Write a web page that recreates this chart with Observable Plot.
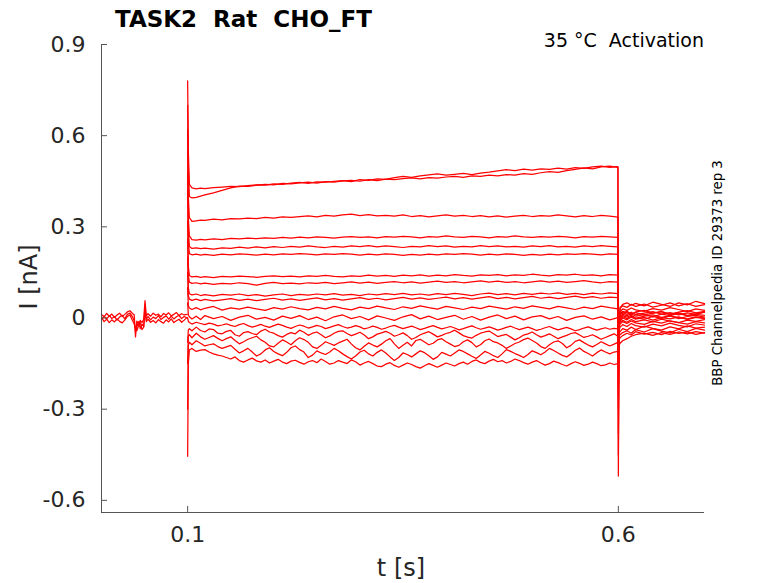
<!DOCTYPE html>
<html><head><meta charset="utf-8">
<script src="https://cdn.jsdelivr.net/npm/d3@7"></script>
<script src="https://cdn.jsdelivr.net/npm/@observablehq/plot@0.6"></script>
<style>body{margin:0;background:#fff;}</style>
</head><body><div id="chart"></div>
<script>
// ---- axis definitions ----
const xDomain = [0, 0.7];
const yDomain = [-0.64, 0.9];
const xTicks = [0.1, 0.6];
const xTickLabels = ["0.1", "0.6"];
const yTicks = [-0.6, -0.3, 0, 0.3, 0.6, 0.9];
const yTickLabels = ["-0.6", "-0.3", "0", "0.3", "0.6", "0.9"];

// ---- holding period (before step) ----
const tBase = [0, 0.003, 0.006, 0.009, 0.012, 0.015, 0.018, 0.021, 0.024, 0.027,
  0.03, 0.033, 0.036, 0.038, 0.0395, 0.041, 0.043, 0.045, 0.047, 0.049,
  0.0505, 0.052, 0.054, 0.057, 0.06, 0.063, 0.066, 0.069, 0.072, 0.075,
  0.078, 0.081, 0.084, 0.087, 0.09, 0.093, 0.096, 0.0995];
const base1 = [0.012, 0.004, 0.015, 0.006, 0.013, 0.002, 0.01, 0.016, 0.005, 0.012,
  0.02, 0.024, 0.015, 0.01, -0.062, -0.01, -0.02, -0.008, -0.015, -0.004,
  0.057, 0.008, 0.014, 0.006, 0.016, 0.009, 0.013, 0.004, 0.015, 0.01,
  0.017, 0.007, 0.012, 0.018, 0.008, 0.014, 0.01, 0.012];
const base2 = [-0.006, 0.006, -0.004, 0.008, -0.002, 0.005, -0.007, 0.003, 0.009, -0.003,
  0.012, 0.016, 0.004, -0.01, -0.045, -0.03, -0.012, -0.035, -0.02, -0.028,
  0.04, -0.004, 0.005, -0.006, 0.003, -0.002, 0.008, -0.005, 0.002, 0.007,
  -0.004, 0.006, -0.003, 0.004, 0.009, -0.002, 0.005, 0.0];
const base3 = [0.002, -0.012, -0.004, -0.015, -0.006, -0.013, -0.003, -0.011, -0.016, -0.007,
  0.005, 0.01, -0.008, -0.02, -0.035, -0.042, -0.025, -0.015, -0.038, -0.03,
  0.025, -0.012, -0.004, -0.014, -0.008, -0.016, -0.005, -0.012, -0.017, -0.006,
  -0.013, -0.003, -0.015, -0.009, -0.004, -0.014, -0.007, 0.002];

// ---- step period, coarse sampling ----
const tStep = [0.1, 0.1008, 0.102, 0.105, 0.11, 0.115, 0.12, 0.13, 0.14, 0.15,
  0.16, 0.17, 0.18, 0.19, 0.2, 0.21, 0.22, 0.23, 0.24, 0.25,
  0.26, 0.27, 0.28, 0.29, 0.3, 0.31, 0.32, 0.33, 0.34, 0.35,
  0.36, 0.37, 0.38, 0.39, 0.4, 0.41, 0.42, 0.43, 0.44, 0.45,
  0.46, 0.47, 0.48, 0.49, 0.5, 0.51, 0.52, 0.53, 0.54, 0.55,
  0.56, 0.57, 0.58, 0.59, 0.5995];
// ---- step period, fine sampling (noisier sweeps) ----
const tStepFine = [0.1, 0.1008, 0.102, 0.105,
  0.11, 0.115, 0.12, 0.125, 0.13, 0.135,
  0.14, 0.145, 0.15, 0.155, 0.16, 0.165, 0.17, 0.175, 0.18, 0.185,
  0.19, 0.195, 0.2, 0.205, 0.21, 0.215, 0.22, 0.225, 0.23, 0.235,
  0.24, 0.245, 0.25, 0.255, 0.26, 0.265, 0.27, 0.275, 0.28, 0.285,
  0.29, 0.295, 0.3, 0.305, 0.31, 0.315, 0.32, 0.325, 0.33, 0.335,
  0.34, 0.345, 0.35, 0.355, 0.36, 0.365, 0.37, 0.375, 0.38, 0.385,
  0.39, 0.395, 0.4, 0.405, 0.41, 0.415, 0.42, 0.425, 0.43, 0.435,
  0.44, 0.445, 0.45, 0.455, 0.46, 0.465, 0.47, 0.475, 0.48, 0.485,
  0.49, 0.495, 0.5, 0.505, 0.51, 0.515, 0.52, 0.525, 0.53, 0.535,
  0.54, 0.545, 0.55, 0.555, 0.56, 0.565, 0.57, 0.575, 0.58, 0.585,
  0.59, 0.595, 0.5995];

const stepA = [0.78, 0.55, 0.44, 0.428, 0.425, 0.427, 0.426, 0.429, 0.431, 0.433,
  0.432, 0.436, 0.438, 0.437, 0.441, 0.44, 0.444, 0.446, 0.443, 0.448,
  0.447, 0.45, 0.452, 0.449, 0.455, 0.453, 0.458, 0.456, 0.462, 0.466,
  0.463, 0.468, 0.471, 0.474, 0.47, 0.473, 0.476, 0.472, 0.477, 0.48,
  0.484, 0.488, 0.485, 0.49, 0.487, 0.491, 0.489, 0.493, 0.49, 0.495,
  0.492, 0.497, 0.5, 0.496, 0.498];
const stepB = [0.7, 0.5, 0.4, 0.395, 0.397, 0.401, 0.405, 0.412, 0.42, 0.428,
  0.434, 0.433, 0.437, 0.44, 0.438, 0.443, 0.441, 0.445, 0.447, 0.444,
  0.449, 0.447, 0.451, 0.453, 0.45, 0.455, 0.452, 0.457, 0.455, 0.459,
  0.461, 0.458, 0.462, 0.46, 0.464, 0.466, 0.463, 0.468, 0.466, 0.47,
  0.468, 0.472, 0.47, 0.475, 0.473, 0.478, 0.482, 0.479, 0.485, 0.489,
  0.494, 0.491, 0.497, 0.5, 0.496];
const stepC = [0.62, 0.4, 0.33, 0.318, 0.32, 0.322, 0.321, 0.325, 0.323, 0.327,
  0.326, 0.329, 0.327, 0.331, 0.329, 0.333, 0.331, 0.334, 0.336, 0.333,
  0.338, 0.335, 0.339, 0.342, 0.337, 0.34, 0.336, 0.338, 0.335, 0.339,
  0.334, 0.337, 0.333, 0.336, 0.339, 0.335, 0.338, 0.334, 0.337, 0.333,
  0.336, 0.332, 0.335, 0.338, 0.334, 0.337, 0.335, 0.339, 0.336, 0.333,
  0.337, 0.334, 0.338, 0.335, 0.332];
const stepD = [0.55, 0.33, 0.27, 0.258, 0.256, 0.259, 0.257, 0.26, 0.258, 0.262,
  0.26, 0.263, 0.261, 0.264, 0.262, 0.265, 0.263, 0.266, 0.264, 0.267,
  0.265, 0.263, 0.266, 0.268, 0.265, 0.267, 0.264, 0.268, 0.266, 0.269,
  0.267, 0.264, 0.268, 0.266, 0.27, 0.267, 0.265, 0.269, 0.267, 0.264,
  0.268, 0.266, 0.27, 0.267, 0.265, 0.268, 0.266, 0.269, 0.267, 0.264,
  0.268, 0.266, 0.269, 0.267, 0.265];
const stepE = [0.48, 0.29, 0.235, 0.229, 0.231, 0.228, 0.23, 0.227, 0.231, 0.229,
  0.233, 0.23, 0.234, 0.231, 0.235, 0.232, 0.236, 0.233, 0.237, 0.234,
  0.232, 0.236, 0.233, 0.237, 0.235, 0.238, 0.234, 0.237, 0.235, 0.232,
  0.236, 0.234, 0.238, 0.235, 0.237, 0.233, 0.236, 0.234, 0.238, 0.235,
  0.237, 0.234, 0.236, 0.233, 0.237, 0.235, 0.238, 0.234, 0.236, 0.233,
  0.237, 0.235, 0.238, 0.236, 0.234];
const stepF = [0.42, 0.25, 0.212, 0.208, 0.21, 0.207, 0.209, 0.206, 0.21, 0.208,
  0.211, 0.209, 0.207, 0.21, 0.208, 0.211, 0.209, 0.212, 0.21, 0.208,
  0.211, 0.209, 0.212, 0.21, 0.207, 0.21, 0.208, 0.211, 0.209, 0.206,
  0.209, 0.207, 0.21, 0.208, 0.211, 0.209, 0.212, 0.21, 0.207, 0.21,
  0.208, 0.211, 0.209, 0.206, 0.209, 0.207, 0.21, 0.208, 0.211, 0.209,
  0.212, 0.21, 0.208, 0.211, 0.209];
const stepG = [0.32, 0.17, 0.14, 0.135, 0.137, 0.134, 0.136, 0.133, 0.137, 0.135,
  0.138, 0.136, 0.134, 0.137, 0.139, 0.136, 0.138, 0.135, 0.139, 0.137,
  0.14, 0.137, 0.135, 0.139, 0.137, 0.141, 0.138, 0.14, 0.137, 0.141,
  0.139, 0.142, 0.138, 0.141, 0.139, 0.143, 0.14, 0.138, 0.142, 0.14,
  0.143, 0.139, 0.142, 0.14, 0.144, 0.141, 0.139, 0.143, 0.141, 0.144,
  0.14, 0.142, 0.139, 0.143, 0.141];
const stepH = [0.26, 0.14, 0.118, 0.114, 0.116, 0.112, 0.115, 0.111, 0.114, 0.112,
  0.116, 0.113, 0.108, 0.114, 0.117, 0.113, 0.115, 0.112, 0.116, 0.114,
  0.117, 0.113, 0.116, 0.119, 0.115, 0.118, 0.114, 0.117, 0.12, 0.116,
  0.119, 0.115, 0.118, 0.121, 0.117, 0.12, 0.116, 0.119, 0.122, 0.118,
  0.121, 0.117, 0.12, 0.116, 0.119, 0.122, 0.118, 0.121, 0.117, 0.12,
  0.123, 0.119, 0.116, 0.12, 0.118];
const stepI = [0.2, 0.1, 0.08, 0.076, 0.079, 0.074, 0.077, 0.073, 0.078, 0.075,
  0.079, 0.074, 0.077, 0.072, 0.076, 0.079, 0.074, 0.078, 0.075, 0.079,
  0.076, 0.08, 0.075, 0.078, 0.074, 0.079, 0.076, 0.08, 0.077, 0.081,
  0.076, 0.079, 0.075, 0.08, 0.077, 0.081, 0.078, 0.074, 0.079, 0.082,
  0.077, 0.08, 0.076, 0.081, 0.078, 0.082, 0.079, 0.083, 0.078, 0.081,
  0.077, 0.082, 0.079, 0.083, 0.08];
const stepJ = [0.15, 0.075, 0.062, 0.058, 0.062, 0.057, 0.061, 0.056, 0.06, 0.064,
  0.058, 0.062, 0.057, 0.061, 0.065, 0.059, 0.063, 0.058, 0.062, 0.066,
  0.06, 0.064, 0.059, 0.063, 0.067, 0.061, 0.065, 0.06, 0.064, 0.068,
  0.062, 0.066, 0.061, 0.065, 0.069, 0.063, 0.067, 0.062, 0.066, 0.07,
  0.064, 0.068, 0.063, 0.067, 0.071, 0.065, 0.069, 0.064, 0.068, 0.072,
  0.066, 0.07, 0.065, 0.069, 0.067];
const stepK = [0.1, 0.04, 0.033, 0.028, 0.034, 0.027, 0.032, 0.038, 0.026, 0.033,
  0.029, 0.036, 0.03, 0.025, 0.034, 0.029, 0.037, 0.031, 0.027, 0.035,
  0.03, 0.038, 0.032, 0.027, 0.036, 0.031, 0.039, 0.033, 0.028, 0.037,
  0.032, 0.04, 0.034, 0.029, 0.038, 0.033, 0.028, 0.036, 0.031, 0.039,
  0.034, 0.029, 0.037, 0.032, 0.04, 0.035, 0.03, 0.038, 0.033, 0.028,
  0.036, 0.031, 0.039, 0.034, 0.03];
const stepL = [0.05, 0.01, 0.004, -0.003, 0.006, -0.005, 0.008, -0.002, 0.005, -0.008,
  0.003, 0.009, -0.004, 0.002, -0.007, 0.006, -0.001, 0.008, -0.005, 0.003,
  -0.009, 0.004, 0.01, -0.002, 0.005, -0.006, 0.007, 0.0, -0.008, 0.004,
  0.011, -0.003, 0.006, -0.005, 0.002, 0.009, -0.004, 0.005, -0.007, 0.003,
  0.01, -0.002, 0.006, -0.006, 0.004, 0.008, -0.003, 0.005, -0.008, 0.002,
  0.007, -0.004, 0.004, -0.006, 0.001];
const stepM = [0.0, -0.01, -0.015, -0.02,
  -0.014, -0.018, -0.022, -0.017, -0.02, -0.026,
  -0.023, -0.019, -0.024, -0.028, -0.022, -0.018, -0.025, -0.03, -0.026, -0.021,
  -0.027, -0.031, -0.025, -0.02, -0.024, -0.03, -0.034, -0.028, -0.023, -0.027,
  -0.033, -0.029, -0.024, -0.028, -0.035, -0.031, -0.026, -0.022, -0.028, -0.033,
  -0.03, -0.025, -0.029, -0.036, -0.032, -0.027, -0.031, -0.037, -0.033, -0.028,
  -0.024, -0.03, -0.035, -0.031, -0.027, -0.032, -0.038, -0.034, -0.029, -0.025,
  -0.031, -0.036, -0.032, -0.028, -0.033, -0.039, -0.035, -0.03, -0.026, -0.032,
  -0.037, -0.033, -0.029, -0.034, -0.04, -0.036, -0.031, -0.027, -0.033, -0.038,
  -0.034, -0.03, -0.035, -0.041, -0.037, -0.032, -0.028, -0.034, -0.039, -0.035,
  -0.031, -0.036, -0.042, -0.038, -0.033, -0.029, -0.035, -0.04, -0.036, -0.032,
  -0.037, -0.034, -0.036];
const stepN = [-0.08, -0.04, -0.035, -0.042,
  -0.03, -0.041, -0.046, -0.036, -0.038, -0.05,
  -0.052, -0.044, -0.041, -0.055, -0.06, -0.048, -0.045, -0.051, -0.055, -0.043,
  -0.037, -0.046, -0.05, -0.058, -0.063, -0.054, -0.048, -0.052, -0.04, -0.047,
  -0.057, -0.05, -0.046, -0.055, -0.065, -0.059, -0.05, -0.044, -0.042, -0.051,
  -0.058, -0.053, -0.047, -0.056, -0.068, -0.062, -0.053, -0.049, -0.044, -0.05,
  -0.06, -0.055, -0.049, -0.058, -0.07, -0.064, -0.055, -0.05, -0.045, -0.053,
  -0.062, -0.057, -0.051, -0.047, -0.04, -0.049, -0.058, -0.063, -0.066, -0.057,
  -0.05, -0.046, -0.043, -0.052, -0.061, -0.057, -0.054, -0.063, -0.072, -0.065,
  -0.056, -0.052, -0.046, -0.055, -0.063, -0.058, -0.052, -0.06, -0.068, -0.062,
  -0.057, -0.051, -0.048, -0.056, -0.064, -0.06, -0.055, -0.062, -0.07, -0.064,
  -0.058, -0.052, -0.06];
const stepO = [-0.15, -0.06, -0.055, -0.065,
  -0.05, -0.062, -0.07, -0.064, -0.058, -0.067,
  -0.075, -0.068, -0.062, -0.074, -0.085, -0.078, -0.07, -0.065, -0.06, -0.072,
  -0.08, -0.092, -0.095, -0.083, -0.072, -0.079, -0.088, -0.075, -0.065, -0.071,
  -0.08, -0.095, -0.1, -0.09, -0.078, -0.084, -0.09, -0.082, -0.076, -0.07,
  -0.085, -0.098, -0.105, -0.093, -0.082, -0.089, -0.095, -0.086, -0.075, -0.068,
  -0.085, -0.1, -0.09, -0.08, -0.092, -0.074, -0.07, -0.079, -0.088, -0.083,
  -0.072, -0.068, -0.078, -0.086, -0.094, -0.09, -0.078, -0.072, -0.081, -0.095,
  -0.088, -0.075, -0.069, -0.078, -0.082, -0.09, -0.1, -0.092, -0.084, -0.079,
  -0.071, -0.066, -0.074, -0.082, -0.094, -0.1, -0.088, -0.079, -0.075, -0.084,
  -0.098, -0.09, -0.077, -0.072, -0.081, -0.089, -0.095, -0.087, -0.078, -0.085,
  -0.092, -0.086, -0.08];
const stepP = [-0.3, -0.09, -0.08, -0.088,
  -0.075, -0.083, -0.092, -0.088, -0.085, -0.094,
  -0.1, -0.095, -0.09, -0.103, -0.115, -0.108, -0.1, -0.112, -0.125, -0.118,
  -0.105, -0.098, -0.11, -0.118, -0.124, -0.113, -0.098, -0.092, -0.104, -0.112,
  -0.13, -0.122, -0.108, -0.115, -0.12, -0.112, -0.1, -0.108, -0.118, -0.127,
  -0.135, -0.125, -0.112, -0.106, -0.118, -0.125, -0.113, -0.105, -0.115, -0.128,
  -0.14, -0.13, -0.115, -0.12, -0.128, -0.118, -0.108, -0.114, -0.124, -0.136,
  -0.128, -0.113, -0.119, -0.125, -0.115, -0.105, -0.11, -0.118, -0.126, -0.133,
  -0.122, -0.11, -0.116, -0.124, -0.13, -0.118, -0.104, -0.11, -0.117, -0.123,
  -0.13, -0.12, -0.108, -0.114, -0.121, -0.112, -0.1, -0.107, -0.115, -0.123,
  -0.128, -0.118, -0.106, -0.099, -0.11, -0.117, -0.125, -0.114, -0.105, -0.112,
  -0.118, -0.112, -0.11];
const stepQ = [-0.455, -0.15, -0.105, -0.1,
  -0.11, -0.106, -0.104, -0.112, -0.118, -0.122,
  -0.125, -0.13, -0.135, -0.128, -0.14, -0.145, -0.138, -0.132, -0.141, -0.145,
  -0.138, -0.148, -0.142, -0.136, -0.145, -0.15, -0.142, -0.139, -0.146, -0.152,
  -0.144, -0.14, -0.147, -0.135, -0.143, -0.152, -0.148, -0.14, -0.145, -0.15,
  -0.138, -0.144, -0.155, -0.148, -0.143, -0.15, -0.158, -0.16, -0.152, -0.147,
  -0.156, -0.162, -0.155, -0.148, -0.153, -0.16, -0.165, -0.157, -0.15, -0.156,
  -0.162, -0.155, -0.148, -0.153, -0.158, -0.15, -0.145, -0.152, -0.143, -0.138,
  -0.146, -0.15, -0.142, -0.136, -0.144, -0.14, -0.148, -0.143, -0.135, -0.14,
  -0.147, -0.152, -0.145, -0.14, -0.148, -0.155, -0.15, -0.142, -0.147, -0.153,
  -0.158, -0.15, -0.144, -0.149, -0.156, -0.152, -0.145, -0.15, -0.157, -0.154,
  -0.148, -0.153, -0.15];

// ---- tail period (after step) ----
const tTail = [0.6, 0.6008, 0.602, 0.605, 0.61, 0.615, 0.62, 0.63, 0.64, 0.65, 0.66, 0.67, 0.68, 0.69, 0.7];
const tailA = [-0.52, -0.05, 0.03, 0.045, 0.05, 0.042, 0.048, 0.04, 0.052, 0.045, 0.038, 0.05, 0.043, 0.055, 0.047];
const tailB = [-0.45, -0.04, 0.035, 0.04, 0.035, 0.045, 0.038, 0.046, 0.036, 0.042, 0.05, 0.04, 0.047, 0.038, 0.044];
const tailC = [-0.38, -0.03, 0.02, 0.03, 0.025, 0.033, 0.027, 0.022, 0.031, 0.026, 0.034, 0.028, 0.021, 0.03, 0.025];
const tailD = [-0.3, -0.02, 0.015, 0.022, 0.018, 0.012, 0.02, 0.025, 0.016, 0.021, 0.013, 0.019, 0.024, 0.017, 0.022];
const tailE = [-0.26, -0.02, 0.01, 0.018, 0.012, 0.019, 0.011, 0.016, 0.021, 0.013, 0.018, 0.01, 0.017, 0.012, 0.019];
const tailF = [-0.22, -0.015, 0.005, 0.012, 0.008, 0.014, 0.006, 0.011, 0.004, 0.013, 0.008, 0.015, 0.007, 0.012, 0.009];
const tailG = [-0.15, -0.01, 0.0, 0.008, 0.003, 0.009, -0.001, 0.006, 0.01, 0.002, 0.007, -0.002, 0.005, 0.009, 0.003];
const tailH = [-0.12, -0.01, -0.005, 0.004, -0.002, 0.006, 0.0, -0.004, 0.005, -0.001, 0.007, 0.001, -0.003, 0.004, 0.0];
const tailI = [-0.08, -0.015, -0.01, 0.0, -0.006, 0.003, -0.004, 0.002, -0.007, 0.001, -0.003, 0.004, -0.005, 0.002, -0.002];
const tailJ = [-0.06, 0.0, 0.02, 0.015, 0.022, 0.012, 0.018, 0.01, 0.016, 0.021, 0.011, 0.017, 0.009, 0.014, 0.019];
const tailK = [-0.04, -0.02, -0.015, -0.008, -0.014, -0.005, -0.012, -0.006, -0.013, -0.004, -0.01, -0.015, -0.007, -0.011, -0.005];
const tailL = [-0.02, -0.03, -0.02, -0.012, -0.018, -0.01, -0.016, -0.021, -0.011, -0.017, -0.009, -0.015, -0.02, -0.012, -0.016];
const tailM = [-0.01, -0.04, -0.03, -0.022, -0.028, -0.018, -0.025, -0.03, -0.02, -0.026, -0.017, -0.024, -0.029, -0.019, -0.023];
const tailN = [0.0, -0.05, -0.045, -0.035, -0.04, -0.03, -0.038, -0.027, -0.034, -0.04, -0.029, -0.036, -0.026, -0.033, -0.03];
const tailO = [0.02, -0.06, -0.055, -0.048, -0.042, -0.05, -0.038, -0.046, -0.035, -0.043, -0.049, -0.037, -0.045, -0.034, -0.04];
const tailP = [0.04, -0.07, -0.065, -0.058, -0.05, -0.056, -0.045, -0.053, -0.047, -0.055, -0.044, -0.051, -0.046, -0.054, -0.048];
const tailQ = [0.06, -0.09, -0.083, -0.075, -0.068, -0.06, -0.055, -0.05, -0.057, -0.048, -0.054, -0.046, -0.052, -0.045, -0.05];

// ---- build table ----
const baselines = [["b1", base1], ["b2", base2], ["b3", base3]];
const sweeps = [
  ["A", tStep, stepA, tailA], ["B", tStep, stepB, tailB], ["C", tStep, stepC, tailC],
  ["D", tStep, stepD, tailD], ["E", tStep, stepE, tailE], ["F", tStep, stepF, tailF],
  ["G", tStep, stepG, tailG], ["H", tStep, stepH, tailH], ["I", tStep, stepI, tailI],
  ["J", tStep, stepJ, tailJ], ["K", tStep, stepK, tailK], ["L", tStep, stepL, tailL],
  ["M", tStepFine, stepM, tailM], ["N", tStepFine, stepN, tailN], ["O", tStepFine, stepO, tailO],
  ["P", tStepFine, stepP, tailP], ["Q", tStepFine, stepQ, tailQ]
];
const rows = [];
for (const [id, vals] of baselines) tBase.forEach((t, k) => rows.push({sweep: id, t, i: vals[k]}));
for (const [id, ts, step, tail] of sweeps) {
  ts.forEach((t, k) => rows.push({sweep: id, t, i: step[k]}));
  tTail.forEach((t, k) => rows.push({sweep: id, t, i: tail[k]}));
}

const chart = Plot.plot({
  width: 778,
  height: 583,
  marginLeft: 101,
  marginRight: 74,
  marginTop: 44,
  marginBottom: 71,
  style: {fontFamily: "DejaVu Sans", color: "#262626", background: "#ffffff", overflow: "visible"},
  x: {domain: xDomain},
  y: {domain: yDomain},
  marks: [
    Plot.line(rows, {x: "t", y: "i", z: "sweep", stroke: "#ff0000", strokeWidth: 1.25}),
    Plot.ruleX([xDomain[0]], {stroke: "#555555", strokeWidth: 1}),
    Plot.ruleY([yDomain[0]], {stroke: "#555555", strokeWidth: 1}),
    Plot.axisX({ticks: xTicks, tickFormat: (d, i) => xTickLabels[i], tickSize: -6, tickPadding: 20,
      fontSize: 22, label: null, stroke: "#555555", fill: "#262626"}),
    Plot.axisY({ticks: yTicks, tickFormat: (d, i) => yTickLabels[i], tickSize: -6, tickPadding: 22,
      fontSize: 22, label: null, stroke: "#555555", fill: "#262626"})
  ]
});
document.getElementById("chart").appendChild(chart);

const svg = d3.select(chart);
svg.append("text").attr("x", 115).attr("y", 27).attr("text-anchor", "start")
  .attr("font-family", "DejaVu Sans").attr("font-weight", "bold").attr("font-size", 23)
  .attr("fill", "#000").style("white-space", "pre").text("TASK2  Rat  CHO_FT");
svg.append("text").attr("x", 704).attr("y", 47).attr("text-anchor", "end")
  .attr("font-family", "DejaVu Sans").attr("font-size", 19)
  .attr("fill", "#000").style("white-space", "pre").text("35 °C  Activation");
svg.append("text").attr("x", 401).attr("y", 576).attr("text-anchor", "middle")
  .attr("font-family", "DejaVu Sans").attr("font-size", 24)
  .attr("fill", "#262626").text("t [s]");
svg.append("text").attr("transform", "translate(37,277) rotate(-90)").attr("text-anchor", "middle")
  .attr("font-family", "DejaVu Sans").attr("font-size", 24)
  .attr("fill", "#262626").text("I [nA]");
svg.append("text").attr("transform", "translate(722,273) rotate(-90)").attr("text-anchor", "middle")
  .attr("font-family", "DejaVu Sans").attr("font-size", 13.3)
  .attr("fill", "#000").text("BBP Channelpedia ID 29373 rep 3");
</script>
</body></html>
